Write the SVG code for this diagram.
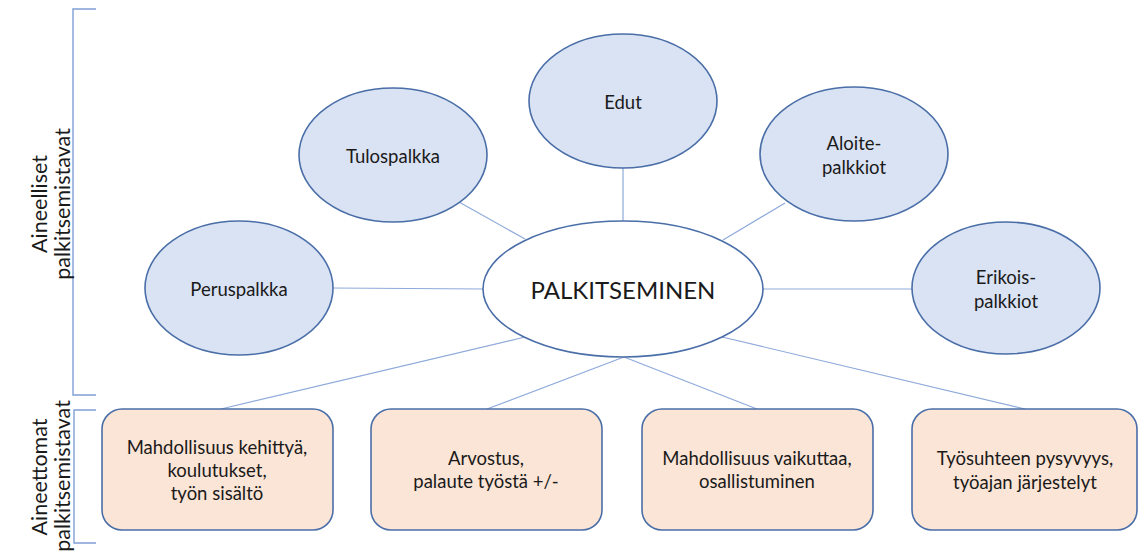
<svg xmlns="http://www.w3.org/2000/svg" width="1140" height="551" viewBox="0 0 1140 551">
  <style>
    .bg { fill: #ffffff; }
    .link { stroke: #8eaadb; stroke-width: 1.2; fill: none; }
    .brace { stroke: #7f9fd6; stroke-width: 1.4; fill: none; }
    .oval { fill: #dae3f3; stroke: #4a6ea8; stroke-width: 1.6; }
    .hub { fill: #ffffff; stroke: #4a6ea8; stroke-width: 1.6; }
    .box { fill: #fbe5d6; stroke: #4a6ea8; stroke-width: 1.6; }
    text { font-family: Lato, "Open Sans", "Liberation Sans", sans-serif; fill: #1a1a1a; text-anchor: middle; dominant-baseline: central; }
    .t { font-size: 18.5px; }
    .big { font-size: 24px; }
    .side { font-size: 21.5px; }
  </style>
  <rect class="bg" x="0" y="0" width="1140" height="551"/>

  <!-- side brackets and their labels -->
  <g id="group-material">
    <path class="brace" d="M96,9 H73 V395 H96"/>
    <text class="side" transform="translate(39,204) rotate(-90)">Aineelliset</text>
    <text class="side" transform="translate(62,204) rotate(-90)">palkitsemistavat</text>
  </g>
  <g id="group-immaterial">
    <path class="brace" d="M96,410 H74 V543 H96"/>
    <text class="side" transform="translate(39,477) rotate(-90)">Aineettomat</text>
    <text class="side" transform="translate(62,476) rotate(-90)">palkitsemistavat</text>
  </g>

  <!-- connectors from the hub -->
  <g id="connectors">
    <line class="link" x1="333" y1="288" x2="484" y2="289"/>
    <line class="link" x1="459" y1="202" x2="525" y2="239"/>
    <line class="link" x1="623" y1="168" x2="623" y2="221"/>
    <line class="link" x1="785" y1="203" x2="723" y2="240"/>
    <line class="link" x1="912" y1="289" x2="763" y2="289"/>
    <line class="link" x1="221" y1="409" x2="525" y2="337"/>
    <line class="link" x1="487" y1="409" x2="624" y2="357"/>
    <line class="link" x1="757" y1="409" x2="624" y2="357"/>
    <line class="link" x1="1025" y1="409" x2="722" y2="337"/>
  </g>

  <g id="node-peruspalkka">
    <ellipse class="oval" cx="239" cy="288" rx="94" ry="67"/>
    <text class="t" x="239" y="289">Peruspalkka</text>
  </g>
  <g id="node-tulospalkka">
    <ellipse class="oval" cx="393" cy="155" rx="94" ry="67"/>
    <text class="t" x="393" y="156">Tulospalkka</text>
  </g>
  <g id="node-edut">
    <ellipse class="oval" cx="623" cy="101" rx="94" ry="67"/>
    <text class="t" x="623" y="102">Edut</text>
  </g>
  <g id="node-aloitepalkkiot">
    <ellipse class="oval" cx="854" cy="154" rx="94" ry="67"/>
    <text class="t" x="854" y="143">Aloite-</text>
    <text class="t" x="854" y="167">palkkiot</text>
  </g>
  <g id="node-erikoispalkkiot">
    <ellipse class="oval" cx="1006" cy="288" rx="94" ry="66"/>
    <text class="t" x="1006" y="277">Erikois-</text>
    <text class="t" x="1006" y="301">palkkiot</text>
  </g>
  <g id="node-palkitseminen">
    <ellipse class="hub" cx="623" cy="289" rx="140" ry="68"/>
    <text class="big" x="623" y="289">PALKITSEMINEN</text>
  </g>

  <g id="node-kehittyminen">
    <rect class="box" x="102" y="409" width="231" height="121" rx="20"/>
    <text class="t" x="217" y="447">Mahdollisuus kehittyä,</text>
    <text class="t" x="217" y="470">koulutukset,</text>
    <text class="t" x="217" y="493">työn sisältö</text>
  </g>
  <g id="node-arvostus">
    <rect class="box" x="371" y="409" width="231" height="121" rx="20"/>
    <text class="t" x="486" y="458">Arvostus,</text>
    <text class="t" x="486" y="481">palaute työstä +/-</text>
  </g>
  <g id="node-vaikuttaminen">
    <rect class="box" x="642" y="409" width="231" height="121" rx="20"/>
    <text class="t" x="757" y="458">Mahdollisuus vaikuttaa,</text>
    <text class="t" x="757" y="481">osallistuminen</text>
  </g>
  <g id="node-pysyvyys">
    <rect class="box" x="912" y="409" width="225" height="121" rx="20"/>
    <text class="t" x="1025" y="458">Työsuhteen pysyvyys,</text>
    <text class="t" x="1025" y="482">työajan järjestelyt</text>
  </g>
</svg>
